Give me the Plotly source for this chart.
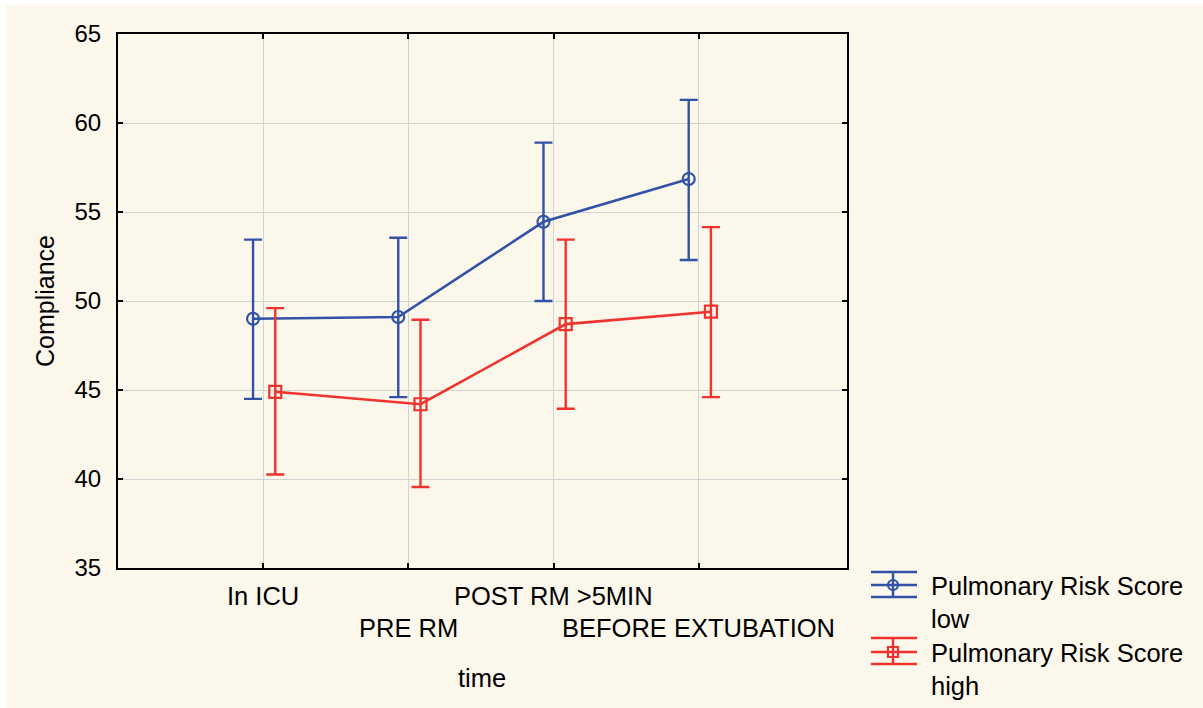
import plotly.graph_objects as go

# Compliance by time point for the two pulmonary risk score groups
time_points = ["In ICU", "PRE RM", "POST RM >5MIN", "BEFORE EXTUBATION"]

low_mean = [49.0, 49.1, 54.45, 56.85]
low_upper = [53.45, 53.55, 58.9, 61.3]
low_lower = [44.5, 44.6, 50.0, 52.3]

high_mean = [44.9, 44.2, 48.7, 49.4]
high_upper = [49.6, 48.95, 53.45, 54.15]
high_lower = [40.25, 39.55, 43.95, 44.6]

y_ticks = [35, 40, 45, 50, 55, 60, 65]

group_names = ["Pulmonary Risk Score<br>low", "Pulmonary Risk Score<br>high"]

BLUE = "#3152A6"
RED = "#F0332E"
CREAM = "#FBF7EB"
FONT = "Liberation Sans, Arial, sans-serif"

# plot area geometry (pixels) used to place paper-anchored decorations
W, H = 1203, 708
L, R, T, B = 118, 847, 34, 568


def px(xp):
    return (xp - L) / (R - L)


def py(yp):
    return (B - yp) / (B - T)


fig = go.Figure()

series = [
    (low_mean, low_upper, low_lower, BLUE, "circle-open", -0.07),
    (high_mean, high_upper, high_lower, RED, "square-open", 0.083),
]
for mean, upper, lower, color, symbol, shift in series:
    xs = [i + shift for i in range(len(time_points))]
    fig.add_trace(go.Scatter(
        x=xs,
        y=mean,
        mode="lines+markers",
        line=dict(color=color, width=2.6),
        marker=dict(symbol=symbol, size=12, color=color, line=dict(width=2.2, color=color)),
        error_y=dict(
            type="data",
            symmetric=False,
            array=[u - m for u, m in zip(upper, mean)],
            arrayminus=[m - lo for m, lo in zip(mean, lower)],
            color=color,
            thickness=2.4,
            width=9,
        ),
        showlegend=False,
        hoverinfo="skip",
    ))

shapes = [
    # cream page background
    dict(type="rect", xref="paper", yref="paper", layer="below",
         x0=px(6), x1=px(W + 20), y0=py(5), y1=py(H + 20),
         fillcolor=CREAM, line=dict(width=0)),
]

annotations = []

# staggered category labels under the x axis
for i, label in enumerate(time_points):
    row_y = 596 if i % 2 == 0 else 628
    annotations.append(dict(
        x=i, xref="x", y=py(row_y), yref="paper",
        text=label, showarrow=False, xanchor="center", yanchor="middle",
        font=dict(family=FONT, size=25.5, color="#000000"),
    ))

annotations.append(dict(
    x=px(482), xref="paper", y=py(678), yref="paper", text="time",
    showarrow=False, xanchor="center", yanchor="middle",
    font=dict(family=FONT, size=25.5, color="#000000"),
))
annotations.append(dict(
    x=px(45), xref="paper", y=py(301), yref="paper", text="Compliance",
    showarrow=False, xanchor="center", yanchor="middle", textangle=-90,
    font=dict(family=FONT, size=25, color="#000000"),
))

# legend: error-bar glyph plus two-line label for each group
legend_rows = [
    (group_names[0], BLUE, "circle", 572, 585, 597, 602),
    (group_names[1], RED, "rect", 638, 652, 664, 669),
]
for name, color, glyph, y_top, y_mid, y_bot, y_text in legend_rows:
    for yy in (y_top, y_mid, y_bot):
        shapes.append(dict(type="line", xref="paper", yref="paper",
                           x0=px(871), x1=px(917), y0=py(yy), y1=py(yy),
                           line=dict(color=color, width=2.4)))
    shapes.append(dict(type="line", xref="paper", yref="paper",
                       x0=px(893), x1=px(893), y0=py(y_top), y1=py(y_bot),
                       line=dict(color=color, width=2.4)))
    shapes.append(dict(type=glyph, xref="paper", yref="paper",
                       x0=px(888), x1=px(898), y0=py(y_mid + 5), y1=py(y_mid - 5),
                       line=dict(color=color, width=2.2)))
    annotations.append(dict(
        x=px(929), xref="paper", y=py(y_text), yref="paper", text=name,
        showarrow=False, xanchor="left", yanchor="middle", align="left",
        font=dict(family=FONT, size=25.5, color="#000000"),
    ))

fig.update_layout(
    width=W,
    height=H,
    margin=dict(l=L, r=W - R, t=T, b=H - B, pad=0),
    paper_bgcolor="#FFFFFF",
    plot_bgcolor="#FFFFFF",
    font=dict(family=FONT, size=24, color="#000000"),
    shapes=shapes,
    annotations=annotations,
    xaxis=dict(
        range=[-1, 4.02],
        tickvals=list(range(len(time_points))),
        showticklabels=False,
        showgrid=True,
        gridcolor="#D2D2D2",
        gridwidth=1,
        zeroline=False,
        showline=True,
        linecolor="#000000",
        linewidth=2,
        mirror="ticks",
        ticks="inside",
        ticklen=5,
        tickwidth=2,
        tickcolor="#000000",
    ),
    yaxis=dict(
        range=[35, 65],
        tickvals=y_ticks,
        showgrid=True,
        gridcolor="#D2D2D2",
        gridwidth=1,
        zeroline=False,
        showline=True,
        linecolor="#000000",
        linewidth=2,
        mirror="ticks",
        ticks="inside",
        ticklen=5,
        tickwidth=2,
        tickcolor="#000000",
        ticklabelstandoff=10,
        tickfont=dict(family=FONT, size=24, color="#000000"),
    ),
)

fig.write_html("out.html")
